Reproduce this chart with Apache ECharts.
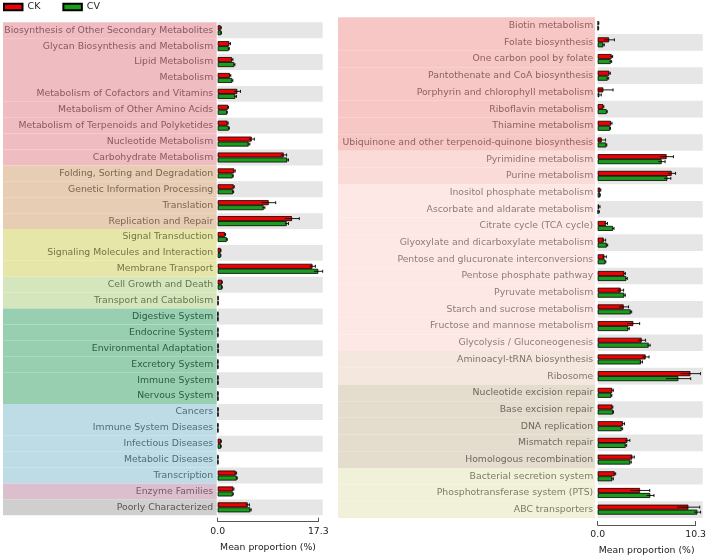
<!DOCTYPE html>
<html><head><meta charset="utf-8">
<script src="https://cdn.jsdelivr.net/npm/echarts@6/dist/echarts.min.js"></script>
<style>html,body{margin:0;padding:0;background:#fff}#c{width:709px;height:558px}</style>
</head><body><div id="c"></div>
<script>
// ---------- data ----------
const leftCats = ["Biosynthesis of Other Secondary Metabolites","Glycan Biosynthesis and Metabolism","Lipid Metabolism","Metabolism","Metabolism of Cofactors and Vitamins","Metabolism of Other Amino Acids","Metabolism of Terpenoids and Polyketides","Nucleotide Metabolism","Carbohydrate Metabolism","Folding, Sorting and Degradation","Genetic Information Processing","Translation","Replication and Repair","Signal Transduction","Signaling Molecules and Interaction","Membrane Transport","Cell Growth and Death","Transport and Catabolism","Digestive System","Endocrine System","Environmental Adaptation","Excretory System","Immune System","Nervous System","Cancers","Immune System Diseases","Infectious Diseases","Metabolic Diseases","Transcription","Enzyme Families","Poorly Characterized"];
const leftCK = [0.52,2.0,2.46,2.1,3.37,1.77,1.7,5.85,11.35,2.86,2.75,8.77,12.78,1.26,0.52,16.3,0.74,0.08,0.05,0.05,0.08,0.04,0.05,0.05,0.07,0.05,0.57,0.06,3.1,2.69,5.16];
const leftCV = [0.6,1.9,2.86,2.5,3.03,1.6,1.9,5.33,11.97,2.58,2.64,7.91,11.87,1.55,0.5,17.3,0.74,0.08,0.05,0.05,0.08,0.04,0.05,0.05,0.07,0.05,0.55,0.06,3.27,2.58,5.61];
const leftCKerr = [0.1,0.2,0.15,0.15,0.55,0.1,0.1,0.45,0.5,0.15,0.1,1.2,1.25,0.1,0.05,0.5,0.05,0.01,0.01,0.01,0.01,0.01,0.01,0.01,0.01,0.01,0.05,0.01,0.15,0.1,0.3];
const leftCVerr = [0.05,0.1,0.1,0.1,0.2,0.05,0.1,0.2,0.2,0.1,0.1,0.2,0.3,0.1,0.05,0.75,0.05,0.01,0.01,0.01,0.01,0.01,0.01,0.01,0.01,0.01,0.05,0.01,0.1,0.1,0.15];
const leftGroupSizes = [9,4,3,2,6,5,1,1];
const leftTicks = [0.0, 17.3];

const rightCats = ["Biotin metabolism","Folate biosynthesis","One carbon pool by folate","Pantothenate and CoA biosynthesis","Porphyrin and chlorophyll metabolism","Riboflavin metabolism","Thiamine metabolism","Ubiquinone and other terpenoid-quinone biosynthesis","Pyrimidine metabolism","Purine metabolism","Inositol phosphate metabolism","Ascorbate and aldarate metabolism","Citrate cycle (TCA cycle)","Glyoxylate and dicarboxylate metabolism","Pentose and glucuronate interconversions","Pentose phosphate pathway","Pyruvate metabolism","Starch and sucrose metabolism","Fructose and mannose metabolism","Glycolysis / Gluconeogenesis","Aminoacyl-tRNA biosynthesis","Ribosome","Nucleotide excision repair","Base excision repair","DNA replication","Mismatch repair","Homologous recombination","Bacterial secretion system","Phosphotransferase system (PTS)","ABC transporters"];
const rightCK = [0.07,1.17,1.44,1.2,0.58,0.58,1.37,0.41,7.1,7.62,0.27,0.14,0.86,0.62,0.69,2.75,2.37,2.68,3.67,4.53,4.94,9.55,1.51,1.51,2.61,3.06,3.57,1.75,4.36,9.34];
const rightCV = [0.05,0.58,1.34,1.03,0.17,0.93,1.27,0.89,6.59,7.18,0.24,0.07,1.58,0.93,0.79,2.95,2.75,3.4,3.16,5.25,4.46,8.31,1.41,1.58,2.47,2.88,3.36,1.51,5.42,10.26];
const rightCKerr = [0.05,0.55,0.1,0.1,1.0,0.05,0.1,0.4,0.7,0.4,0.05,0.1,0.15,0.2,0.2,0.1,0.3,0.5,0.65,0.4,0.35,1.03,0.1,0.05,0.15,0.25,0.2,0.1,1.0,1.17];
const rightCVerr = [0.05,0.1,0.1,0.1,0.2,0.05,0.05,0.05,0.35,0.35,0.03,0.1,0.1,0.1,0.05,0.1,0.1,0.1,0.1,0.15,0.15,1.27,0.05,0.05,0.1,0.1,0.1,0.1,0.38,0.34];
const rightGroupSizes = [8,2,10,2,5,3];
const rightTicks = [0.0, 10.3];

const seriesNames = ["CK","CV"];

// ---------- styles ----------
const FONT = "DejaVu Sans";
const FS = 9.3;
const RED = "#f00000", GREEN = "#1c9c1c";
const leftBg = ["#efbcc2","#e6cdb4","#e6e6a8","#d6e6bc","#98cfb0","#bddce6","#dcbfcc","#cfcfcf"];
const leftTx = ["#8a5860","#7c6550","#74744a","#667652","#2e5c45","#526c76","#785868","#555555"];
const rightBg = ["#f6c7c4","#fadbd7","#fde8e5","#f4e7dd","#e4ddce","#f1f1d9"];
const rightTx = ["#8c6262","#907272","#8c7c7a","#7e746e","#6c6860","#7c7c66"];
const BW = 5;

function expand(sizes, arr){const out=[];sizes.forEach((n,g)=>{for(let i=0;i<n;i++)out.push(arr[g]);});return out;}
const leftRowBg = expand(leftGroupSizes,leftBg), leftRowTx = expand(leftGroupSizes,leftTx);
const rightRowBg = expand(rightGroupSizes,rightBg), rightRowTx = expand(rightGroupSizes,rightTx);

const L = {left:217.7, top:22.3, width:105, height:493, bgLeft:3, bgWidth:213.7, axisW:100.6, axisY:521.7};
const R = {left:597.7, top:17.3, width:105, height:500.7, bgLeft:338, bgWidth:257, axisW:100, axisY:525};

const grids=[], xAxes=[], yAxes=[], series=[];
function panel(P, cats, ck, cv, ckE, cvE, rowBg, rowTx, ticks, stripeFirst){
  const gi = grids.length;
  grids.push({left:P.left, top:P.top, width:P.width, height:P.height});
  xAxes.push({gridIndex:gi, type:'value', min:0, max:ticks[1]*P.width/P.axisW, show:false});
  yAxes.push({gridIndex:gi, type:'category', data:cats, inverse:true,
    axisLine:{show:false}, axisTick:{show:false}, splitLine:{show:false},
    splitArea:{show:true, areaStyle:{color: stripeFirst ? ['#e6e6e6','rgba(0,0,0,0)'] : ['rgba(0,0,0,0)','#e6e6e6']}},
    axisLabel:{margin:4.5, fontFamily:FONT, fontSize:FS, color:(v,i)=>rowTx[i]}});
  [ck,cv].forEach((d,k)=>{
    series.push({type:'bar', name:seriesNames[k], xAxisIndex:gi, yAxisIndex:gi, data:d, barWidth:BW, barGap:'0%',
      itemStyle:{color:k===0?RED:GREEN, borderColor:'#000', borderWidth:0.8}, silent:true, z:3});
  });
  [ckE,cvE].forEach((e,k)=>{
    const vals = k===0?ck:cv;
    series.push({type:'custom', name:seriesNames[k]+' err', xAxisIndex:gi, yAxisIndex:gi, z:4, silent:true,
      data: vals.map((v,i)=>[i, v, e[i]]), encode:{y:0, x:1},
      renderItem:(params, api)=>{
        const i=api.value(0), v=api.value(1), er=api.value(2);
        const a=api.coord([Math.max(0,v-er), i]), b=api.coord([v+er, i]);
        const off = (k===0?-1:1)*BW/2;
        const y=a[1]+off;
        const st={stroke:'#000', lineWidth:0.9};
        return {type:'group', children:[
          {type:'line', shape:{x1:a[0],y1:y,x2:b[0],y2:y}, style:st},
          {type:'line', shape:{x1:b[0],y1:y-1.5,x2:b[0],y2:y+1.5}, style:st}
        ]};
      }});
  });
  const bi = grids.length;
  grids.push({left:P.bgLeft, top:P.top, width:P.bgWidth, height:P.height});
  xAxes.push({gridIndex:bi, type:'value', min:0, max:1, show:false});
  yAxes.push({gridIndex:bi, type:'category', data:cats, inverse:true, show:false});
  series.push({type:'bar', xAxisIndex:bi, yAxisIndex:bi, z:-1, silent:true, barCategoryGap:'0%',
    data: cats.map((c,i)=>({value:1, itemStyle:{color:rowBg[i]}}))});
  const ai = grids.length;
  grids.push({left:P.left, top:P.axisY-1, width:P.axisW, height:1});
  xAxes.push({gridIndex:ai, type:'value', min:ticks[0], max:ticks[1], interval:ticks[1]-ticks[0],
    axisLine:{show:true, lineStyle:{color:'#555', width:1}},
    axisTick:{show:true, inside:true, length:4, lineStyle:{color:'#555'}},
    splitLine:{show:false},
    axisLabel:{fontFamily:FONT, fontSize:FS, color:'#222', margin:5, formatter:v=>v.toFixed(1)},
    name:'Mean proportion (%)', nameLocation:'middle', nameGap:21,
    nameTextStyle:{fontFamily:FONT, fontSize:FS, color:'#222'}});
  yAxes.push({gridIndex:ai, type:'value', show:false});
}
panel(L, leftCats, leftCK, leftCV, leftCKerr, leftCVerr, leftRowBg, leftRowTx, leftTicks, true);
panel(R, rightCats, rightCK, rightCV, rightCKerr, rightCVerr, rightRowBg, rightRowTx, rightTicks, false);

const chart = echarts.init(document.getElementById('c'), null, {renderer:'canvas'});
chart.setOption({
  animation:false,
  legend:{data:seriesNames, left:3, top:2, padding:0, icon:'rect', itemWidth:18.5, itemHeight:6.5, itemGap:22,
    textStyle:{fontFamily:FONT, fontSize:9.5, color:'#222'}},
  grid:grids, xAxis:xAxes, yAxis:yAxes, series:series
});
</script></body></html>
